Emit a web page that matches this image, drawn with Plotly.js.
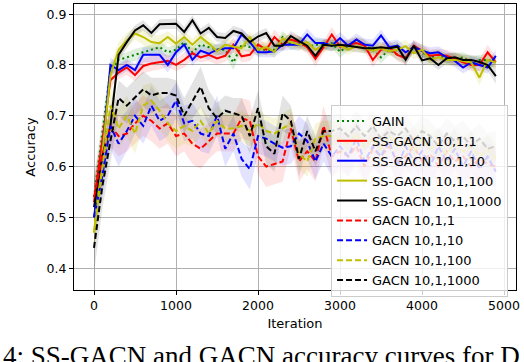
<!DOCTYPE html>
<html>
<head>
<meta charset="utf-8">
<script src="https://cdn.plot.ly/plotly-3.0.1.min.js"></script>
<style>
  html, body { margin: 0; padding: 0; background: #fff; }
  #accfig { width: 524px; height: 362px; }
</style>
</head>
<body>
<div id="accfig"></div>
<script>
var iters = [];
for (var k = 0; k < 50; k++) { iters.push(k * 100); }

// mean accuracy per curve
var gain = [0.54,0.66,0.79,0.81,0.815,0.82,0.826,0.83,0.835,0.825,
            0.83,0.845,0.825,0.84,0.835,0.83,0.83,0.805,0.84,0.835,
            0.83,0.83,0.83,0.855,0.84,0.845,0.835,0.84,0.84,0.843,
            0.826,0.838,0.845,0.838,0.83,0.815,0.83,0.82,0.815,0.835,
            0.825,0.815,0.82,0.812,0.812,0.815,0.805,0.81,0.81,0.805];
var ss1 = [0.53,0.65,0.77,0.785,0.795,0.78,0.798,0.803,0.806,0.808,
           0.80,0.81,0.823,0.815,0.82,0.813,0.818,0.84,0.817,0.82,
           0.84,0.83,0.855,0.84,0.85,0.845,0.835,0.812,0.835,0.86,
           0.836,0.84,0.843,0.838,0.81,0.83,0.835,0.82,0.813,0.838,
           0.828,0.818,0.82,0.818,0.812,0.805,0.80,0.80,0.825,0.805];
var ss10 = [0.50,0.62,0.80,0.79,0.80,0.79,0.82,0.82,0.82,0.80,
            0.825,0.84,0.81,0.828,0.822,0.83,0.833,0.833,0.86,0.845,
            0.825,0.825,0.827,0.84,0.84,0.84,0.86,0.843,0.843,0.838,
            0.853,0.838,0.85,0.84,0.838,0.858,0.835,0.838,0.825,0.835,
            0.828,0.823,0.825,0.815,0.808,0.795,0.805,0.80,0.795,0.818];
var ss100 = [0.47,0.62,0.78,0.83,0.848,0.862,0.855,0.845,0.843,0.855,
             0.842,0.855,0.84,0.855,0.842,0.827,0.84,0.836,0.833,0.855,
             0.83,0.835,0.826,0.852,0.845,0.84,0.845,0.83,0.838,0.84,
             0.838,0.83,0.837,0.833,0.828,0.833,0.827,0.83,0.837,0.823,
             0.83,0.81,0.815,0.81,0.81,0.808,0.805,0.775,0.81,0.805];
var ss1000 = [0.52,0.62,0.68,0.82,0.845,0.868,0.878,0.863,0.88,0.881,
              0.881,0.865,0.888,0.862,0.873,0.855,0.853,0.867,0.862,0.845,
              0.856,0.863,0.838,0.838,0.857,0.847,0.838,0.818,0.84,0.838,
              0.84,0.838,0.835,0.833,0.833,0.835,0.833,0.836,0.81,0.838,
              0.809,0.813,0.80,0.813,0.815,0.81,0.81,0.806,0.80,0.778];
var gacn1 = [0.54,0.62,0.68,0.66,0.665,0.685,0.70,0.69,0.675,0.685,
             0.66,0.665,0.645,0.635,0.65,0.665,0.665,0.665,0.695,0.69,
             0.62,0.60,0.605,0.61,0.675,0.61,0.63,0.61,0.68,0.62,
             0.63,0.62,0.64,0.60,0.635,0.62,0.64,0.61,0.62,0.64,
             0.61,0.625,0.60,0.63,0.61,0.62,0.60,0.615,0.605,0.60];
var gacn10 = [0.50,0.58,0.68,0.645,0.67,0.70,0.68,0.72,0.69,0.70,
              0.73,0.685,0.69,0.665,0.66,0.70,0.635,0.665,0.615,0.595,
              0.66,0.655,0.645,0.637,0.64,0.665,0.65,0.61,0.645,0.62,
              0.64,0.62,0.655,0.61,0.64,0.62,0.65,0.60,0.64,0.61,
              0.63,0.60,0.64,0.61,0.635,0.60,0.63,0.595,0.62,0.59];
var gacn100 = [0.47,0.60,0.72,0.675,0.70,0.665,0.72,0.73,0.71,0.685,
               0.67,0.68,0.67,0.69,0.665,0.69,0.675,0.675,0.68,0.67,
               0.685,0.67,0.665,0.675,0.685,0.625,0.61,0.655,0.66,0.66,
               0.655,0.645,0.665,0.64,0.655,0.635,0.66,0.64,0.65,0.63,
               0.655,0.635,0.645,0.625,0.645,0.63,0.64,0.62,0.635,0.615];
var gacn1000 = [0.44,0.56,0.65,0.735,0.72,0.735,0.752,0.74,0.745,0.745,
                0.74,0.70,0.73,0.757,0.715,0.695,0.71,0.705,0.70,0.66,
                0.715,0.64,0.625,0.705,0.69,0.615,0.67,0.63,0.67,0.67,
                0.675,0.66,0.68,0.66,0.68,0.655,0.67,0.66,0.675,0.65,
                0.67,0.66,0.64,0.665,0.65,0.66,0.64,0.655,0.635,0.64];

// half width of the shaded band around each curve
var gainSd = [0.04,0.03,0.015,0.01,0.01,0.012,0.01,0.01,0.012,0.01,
              0.01,0.012,0.01,0.012,0.01,0.01,0.012,0.015,0.01,0.01,
              0.012,0.01,0.01,0.012,0.01,0.012,0.01,0.012,0.01,0.01,
              0.012,0.01,0.01,0.012,0.01,0.012,0.01,0.01,0.012,0.01,
              0.01,0.012,0.01,0.01,0.012,0.01,0.012,0.01,0.012,0.01];
var ss1Sd = [0.04,0.03,0.015,0.012,0.015,0.012,0.015,0.015,0.015,0.012,
             0.012,0.015,0.012,0.01,0.012,0.012,0.012,0.015,0.012,0.012,
             0.012,0.012,0.015,0.012,0.012,0.012,0.012,0.015,0.012,0.015,
             0.012,0.01,0.012,0.012,0.015,0.012,0.012,0.012,0.012,0.012,
             0.012,0.012,0.012,0.012,0.012,0.012,0.012,0.012,0.015,0.012];
var ss10Sd = [0.04,0.03,0.015,0.012,0.012,0.012,0.015,0.015,0.015,0.015,
              0.012,0.012,0.012,0.012,0.012,0.012,0.012,0.01,0.012,0.012,
              0.01,0.01,0.012,0.012,0.01,0.012,0.012,0.012,0.01,0.012,
              0.012,0.012,0.012,0.012,0.012,0.012,0.012,0.012,0.012,0.012,
              0.012,0.012,0.012,0.012,0.012,0.012,0.012,0.012,0.012,0.012];
var ss100Sd = [0.04,0.03,0.02,0.015,0.015,0.012,0.015,0.015,0.015,0.012,
               0.012,0.012,0.012,0.012,0.012,0.012,0.012,0.012,0.012,0.012,
               0.012,0.012,0.012,0.012,0.012,0.012,0.012,0.012,0.012,0.012,
               0.01,0.01,0.01,0.01,0.01,0.01,0.01,0.012,0.012,0.012,
               0.012,0.012,0.012,0.012,0.012,0.012,0.012,0.015,0.012,0.012];
var ss1000Sd = [0.05,0.04,0.03,0.012,0.012,0.01,0.01,0.01,0.01,0.01,
                0.01,0.01,0.01,0.01,0.01,0.01,0.01,0.01,0.01,0.01,
                0.01,0.01,0.01,0.01,0.01,0.01,0.01,0.012,0.01,0.01,
                0.01,0.01,0.01,0.01,0.01,0.01,0.01,0.01,0.012,0.01,
                0.01,0.01,0.01,0.01,0.01,0.01,0.01,0.01,0.012,0.015];
var gacn1Sd = [0.04,0.04,0.04,0.04,0.035,0.04,0.04,0.04,0.04,0.04,
               0.04,0.035,0.04,0.04,0.035,0.035,0.035,0.035,0.04,0.04,
               0.035,0.04,0.04,0.04,0.035,0.04,0.035,0.04,0.04,0.04,
               0.04,0.04,0.04,0.04,0.04,0.04,0.04,0.04,0.04,0.04,
               0.04,0.04,0.04,0.04,0.04,0.04,0.04,0.04,0.04,0.04];
var gacn10Sd = [0.04,0.04,0.045,0.045,0.04,0.035,0.035,0.04,0.04,0.04,
                0.035,0.035,0.035,0.035,0.035,0.04,0.035,0.035,0.035,0.04,
                0.035,0.035,0.035,0.035,0.035,0.035,0.035,0.035,0.035,0.04,
                0.04,0.04,0.04,0.04,0.04,0.04,0.04,0.04,0.04,0.04,
                0.04,0.04,0.04,0.04,0.04,0.04,0.04,0.04,0.04,0.04];
var gacn100Sd = [0.04,0.04,0.04,0.04,0.04,0.04,0.04,0.035,0.035,0.035,
                 0.035,0.035,0.03,0.03,0.03,0.03,0.03,0.03,0.03,0.03,
                 0.03,0.03,0.03,0.03,0.03,0.03,0.03,0.03,0.03,0.03,
                 0.03,0.03,0.03,0.03,0.03,0.03,0.03,0.03,0.03,0.03,
                 0.03,0.03,0.03,0.03,0.03,0.03,0.03,0.03,0.03,0.03];
var gacn1000Sd = [0.05,0.045,0.04,0.035,0.035,0.035,0.035,0.035,0.03,0.03,
                  0.03,0.035,0.035,0.04,0.035,0.03,0.03,0.03,0.035,0.035,
                  0.035,0.035,0.035,0.035,0.03,0.035,0.03,0.03,0.03,0.03,
                  0.03,0.03,0.03,0.03,0.03,0.03,0.03,0.03,0.03,0.03,
                  0.03,0.03,0.03,0.03,0.03,0.03,0.03,0.03,0.03,0.03];

var curves = [
  { name: 'GAIN',               y: gain,     sd: gainSd,     color: '#008000', band: 'rgba(0,128,0,0.13)',     dash: '2px,3px' },
  { name: 'SS-GACN 10,1,1',     y: ss1,      sd: ss1Sd,      color: '#ff0000', band: 'rgba(255,0,0,0.11)',     dash: 'solid' },
  { name: 'SS-GACN 10,1,10',    y: ss10,     sd: ss10Sd,     color: '#0000ff', band: 'rgba(0,0,255,0.11)',     dash: 'solid' },
  { name: 'SS-GACN 10,1,100',   y: ss100,    sd: ss100Sd,    color: '#bfbf00', band: 'rgba(191,191,0,0.14)',   dash: 'solid' },
  { name: 'SS-GACN 10,1,1000',  y: ss1000,   sd: ss1000Sd,   color: '#000000', band: 'rgba(0,0,0,0.11)',       dash: 'solid' },
  { name: 'GACN 10,1,1',        y: gacn1,    sd: gacn1Sd,    color: '#ff0000', band: 'rgba(255,0,0,0.11)',     dash: '6px,3px' },
  { name: 'GACN 10,1,10',       y: gacn10,   sd: gacn10Sd,   color: '#0000ff', band: 'rgba(0,0,255,0.11)',     dash: '6px,3px' },
  { name: 'GACN 10,1,100',      y: gacn100,  sd: gacn100Sd,  color: '#bfbf00', band: 'rgba(191,191,0,0.14)',   dash: '6px,3px' },
  { name: 'GACN 10,1,1000',     y: gacn1000, sd: gacn1000Sd, color: '#000000', band: 'rgba(0,0,0,0.11)',       dash: '6px,3px' }
];

var data = [];
// bands first, so the lines sit on top
curves.forEach(function (c) {
  var bx = [], by = [];
  for (var i = 0; i < iters.length; i++) { bx.push(iters[i]); by.push(c.y[i] + c.sd[i]); }
  for (var j = iters.length - 1; j >= 0; j--) { bx.push(iters[j]); by.push(c.y[j] - c.sd[j]); }
  data.push({
    x: bx, y: by, type: 'scatter', mode: 'lines',
    fill: 'toself', fillcolor: c.band,
    line: { width: 0 }, showlegend: false, hoverinfo: 'skip'
  });
});
curves.forEach(function (c) {
  data.push({
    x: iters, y: c.y, type: 'scatter', mode: 'lines', name: c.name,
    line: { color: c.color, width: 2, dash: c.dash }
  });
});

var tickFont = { family: 'DejaVu Sans', size: 12.5, color: '#000' };

var layout = {
  width: 524, height: 362,
  margin: { l: 74, r: 8, t: 4, b: 72 },
  paper_bgcolor: '#fff', plot_bgcolor: '#fff',
  showlegend: true,
  legend: {
    x: 0.982, y: 0.647, xanchor: 'right', yanchor: 'top',
    bgcolor: 'rgba(255,255,255,0.8)', bordercolor: '#cccccc', borderwidth: 1,
    font: { family: 'DejaVu Sans', size: 13, color: '#000' },
    tracegroupgap: 0
  },
  xaxis: {
    range: [-244, 5146],
    tickvals: [0, 1000, 2000, 3000, 4000, 5000],
    ticks: 'outside', ticklen: 4, tickcolor: '#000',
    showgrid: true, gridcolor: '#b0b0b0', gridwidth: 1,
    showline: true, linecolor: '#000', linewidth: 1, mirror: true,
    zeroline: false, tickfont: tickFont,
    title: { text: 'Iteration', font: { family: 'DejaVu Sans', size: 13, color: '#000' }, standoff: 6 }
  },
  yaxis: {
    range: [0.357, 0.92],
    tickvals: [0.4, 0.5, 0.6, 0.7, 0.8, 0.9],
    ticktext: ['0.4', '0.5', '0.6', '0.7', '0.8', '0.9'],
    ticks: 'outside', ticklen: 4, tickcolor: '#000',
    showgrid: true, gridcolor: '#b0b0b0', gridwidth: 1,
    showline: true, linecolor: '#000', linewidth: 1, mirror: true,
    zeroline: false, tickfont: tickFont,
    title: { text: 'Accuracy', font: { family: 'DejaVu Sans', size: 13, color: '#000' }, standoff: 8 }
  },
  annotations: [{
    text: '4: SS-GACN and GACN accuracy curves for D',
    xref: 'paper', yref: 'paper', x: -0.166, y: -0.172,
    xanchor: 'left', yanchor: 'top', showarrow: false,
    font: { family: 'Liberation Serif', size: 27, color: '#000' }
  }]
};

Plotly.newPlot('accfig', data, layout, { displayModeBar: false, staticPlot: true });
</script>
</body>
</html>
